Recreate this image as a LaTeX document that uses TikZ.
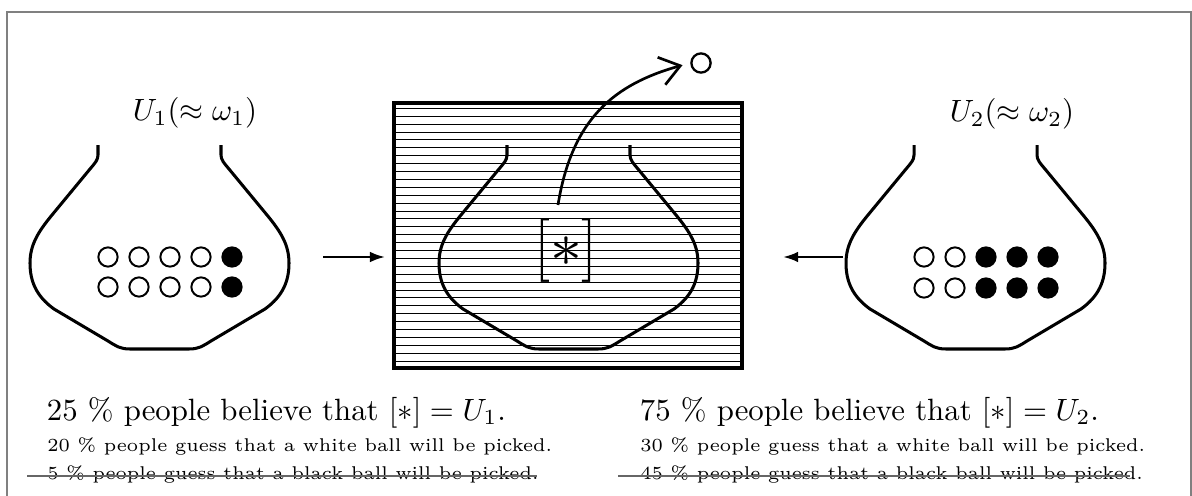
\documentclass[tikz,border=0pt]{standalone}
\usepackage{graphicx}
\usetikzlibrary{arrows.meta}
\newcommand{\txtscale}[1]{\scalebox{1.73}{#1}}
\begin{document}
\begin{tikzpicture}[x=0.5618pt,y=-0.5618pt,
  urnline/.style={line width=1.7pt, line join=round, line cap=butt},
  frameline/.style={draw=black!50, line width=0.9pt},
  boxline/.style={line width=1.8pt},
  hatchline/.style={line width=0.5pt},
  ball/.style={circle, draw, line width=1.1pt, minimum size=10.8pt, inner sep=0pt},
  blackball/.style={ball, fill=black},
  sidearrow/.style={line width=1.4pt, -{Latex[length=8.5pt,width=6pt]}},
  curvearrow/.style={line width=1.5pt, -{Straight Barb[length=11pt,width=16pt]}, shorten >=4.5pt},
  strike/.style={draw=black!60, line width=0.6pt},
  txt/.style={inner sep=0pt},
  urn/.pic={\draw[urnline] (0,0) -- (0,10) .. controls (0,15) and (-3,18) .. (-8,24)
     -- (-46,70) .. controls (-60,87) and (-68,100) .. (-68,118)
     .. controls (-68,136) and (-62,151) .. (-44,164)
     -- (10,196) .. controls (18,201) and (22,204) .. (32,204)
     -- (91,204) .. controls (101,204) and (105,201) .. (113,196)
     -- (167,164) .. controls (185,151) and (191,136) .. (191,118)
     .. controls (191,100) and (183,87) .. (169,70)
     -- (131,24) .. controls (126,18) and (123,15) .. (123,10) -- (123,0);}
]
\useasboundingbox (0,0) rectangle (1192,496);
\clip (0,0) rectangle (1192,496);
\draw[frameline] (7,12) rectangle (1191,530);

% left urn
\pic (urnA) at (98,145) {urn};
\node[txt, anchor=base] (labA) at (195,121) {\txtscale{$U_1(\approx\omega_1)$}};
\foreach \i in {0,...,4}{
  \pgfmathsetmacro{\xx}{108+31*\i}
  \ifnum\i<4
    \node[ball] (a1\i) at (\xx,257) {};
    \node[ball] (a2\i) at (\xx,287) {};
  \else
    \node[blackball] (a1\i) at (\xx,257) {};
    \node[blackball] (a2\i) at (\xx,287) {};
  \fi
}

% right urn
\pic (urnB) at (914,145) {urn};
\node[txt, anchor=base] (labB) at (1012,122) {\txtscale{$U_2(\approx\omega_2)$}};
\foreach \i in {0,...,4}{
  \pgfmathsetmacro{\xx}{924+31*\i}
  \ifnum\i<2
    \node[ball] (c1\i) at (\xx,257) {};
    \node[ball] (c2\i) at (\xx,288) {};
  \else
    \node[blackball] (c1\i) at (\xx,257) {};
    \node[blackball] (c2\i) at (\xx,288) {};
  \fi
}

% central hatched box
\foreach \k in {0,...,32}{
  \draw[hatchline] (394,108.3+7.9*\k) -- (742,108.3+7.9*\k);
}
\draw[boxline] (394,103) rectangle (742,368);
\coordinate (boxW) at (394,257);
\coordinate (boxE) at (742,257);
\pic (urnC) at (507,145) {urn};
\node[txt, anchor=base] (star) at (566,266) {\txtscale{\huge$[\ast]$}};

% picked ball and curved arrow
\node[ball, line width=1.3pt] (out) at (701,63) {};
\coordinate (s) at (558,205);
\draw[curvearrow] (s) .. controls (572,118) and (615,84) .. (out.west);

% side arrows
\coordinate (aS) at (323,257);
\coordinate (cS) at (843,257);
\draw[sidearrow, shorten >=5pt] (aS) -- (boxW);
\draw[sidearrow] (cS) -- (783,257);

% texts
\node[txt, anchor=base west] (t1) at (46.5,420) {\txtscale{25 \% people believe that $[\ast]=U_1$.}};
\node[txt, anchor=base west] (t2) at (47,451) {\txtscale{\fontsize{6}{7}\selectfont 20 \% people guess that a white ball will be picked.}};
\node[txt, anchor=base west] (t3) at (47,479) {\txtscale{\fontsize{6}{7}\selectfont 5 \% people guess that a black ball will be picked.}};
\draw[strike] (27,476) -- (537,476);

\node[txt, anchor=base west] (r1) at (639.5,420) {\txtscale{75 \% people believe that $[\ast]=U_2$.}};
\node[txt, anchor=base west] (r2) at (640,451) {\txtscale{\fontsize{6}{7}\selectfont 30 \% people guess that a white ball will be picked.}};
\node[txt, anchor=base west] (r3) at (640,479) {\txtscale{\fontsize{6}{7}\selectfont 45 \% people guess that a black ball will be picked.}};
\draw[strike] (618,476) -- (1130,476);
\end{tikzpicture}
\end{document}
